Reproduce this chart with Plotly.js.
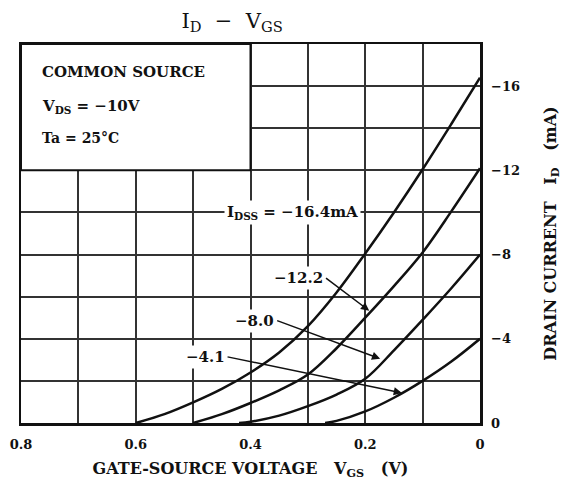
<!DOCTYPE html>
<html>
<head>
<meta charset="utf-8">
<script src="https://cdn.plot.ly/plotly-3.0.1.min.js"></script>
<style>html,body{margin:0;padding:0;background:#fff;}#chart{width:562px;height:486px;}</style>
</head>
<body>
<div id="chart"></div>
<script>
// Gate-source voltage (V) and drain current (mA)
const curveLabels = ['IDSS = -16.4mA', '-12.2', '-8.0', '-4.1'];
const vgs1 = [0, 0.05, 0.1, 0.15, 0.2, 0.25, 0.3, 0.35, 0.4, 0.45, 0.5, 0.55, 0.6];
const id1  = [-16.4, -14.2, -12.05, -10.0, -8.05, -6.2, -4.6, -3.35, -2.4, -1.62, -0.98, -0.42, 0];
const vgs2 = [0, 0.05, 0.1, 0.15, 0.2, 0.25, 0.3, 0.35, 0.4, 0.45, 0.5];
const id2  = [-12.1, -10.05, -8.1, -6.5, -5.0, -3.55, -2.3, -1.55, -0.95, -0.42, 0];
const vgs3 = [0, 0.05, 0.1, 0.15, 0.2, 0.25, 0.3, 0.35, 0.4, 0.42];
const id3  = [-8.0, -6.4, -4.9, -3.45, -2.1, -1.35, -0.8, -0.35, -0.06, 0];
const vgs4 = [0, 0.05, 0.1, 0.15, 0.2, 0.25, 0.27];
const id4  = [-4.0, -2.92, -2.0, -1.2, -0.55, -0.1, 0];
const xTickVals = [0.8, 0.6, 0.4, 0.2, 0];
const xTickText = ['0.8', '0.6', '0.4', '0.2', '0'];
const yTickVals = [-16, -12, -8, -4, 0];
const yTickText = ['−16', '−12', '−8', '−4', '0'];

const serif = 'DejaVu Serif, Liberation Serif, serif';
const ink = '#111';
const lineStyle = {color: ink, width: 2.5, shape: 'spline', smoothing: 1.0};

const traces = [
  [vgs1, id1], [vgs2, id2], [vgs3, id3], [vgs4, id4]
].map((d, i) => ({
  x: d[0], y: d[1], type: 'scatter', mode: 'lines', name: curveLabels[i],
  line: lineStyle, hoverinfo: 'x+y', showlegend: false
}));

const gridColor = '#333';
const bold = (s) => '<b>' + s + '</b>';
const textAnno = (x, y, text, extra) => Object.assign({
  x: x, y: y, xref: 'x', yref: 'y', text: text, showarrow: false,
  font: {family: serif, size: 15, color: ink}, xanchor: 'left', yanchor: 'middle'
}, extra || {});
// label whose right edge sits at (x0, y0), with an arrow to (x1, y1)
const arrowLabel = (x0, y0, x1, y1, text) => ({
  x: x1, y: y1, ax: x0, ay: y0, xref: 'x', yref: 'y', axref: 'x', ayref: 'y',
  text: bold(text), xanchor: 'right', yanchor: 'middle', bgcolor: '#fff', borderpad: 2,
  font: {family: serif, size: 15, color: ink},
  showarrow: true, arrowhead: 2, arrowsize: 1.1, arrowwidth: 1.5, arrowcolor: ink
});

const layout = {
  width: 562, height: 486,
  margin: {l: 21, r: 82, t: 44, b: 63},
  paper_bgcolor: '#fff', plot_bgcolor: '#fff',
  title: {
    text: 'I<sub>D</sub>  −  V<sub>GS</sub>',
    x: 0.413, xanchor: 'center', y: 0.958, yanchor: 'middle',
    font: {family: serif, size: 21, color: ink}
  },
  xaxis: {
    range: [0.8, 0], tickvals: xTickVals, ticktext: xTickText.map(bold),
    showgrid: true, gridcolor: gridColor, gridwidth: 2,
    minor: {dtick: 0.1, tick0: 0, showgrid: true, gridcolor: gridColor, gridwidth: 2, ticks: ''},
    showline: true, mirror: true, linecolor: ink, linewidth: 2.5,
    zeroline: false, ticks: '', ticklabelstandoff: 8,
    tickfont: {family: serif, size: 13, color: ink},
    title: {text: bold('GATE-SOURCE VOLTAGE   V<sub>GS</sub>   (V)'), font: {family: serif, size: 16, color: ink}, standoff: 12}
  },
  yaxis: {
    range: [0, -18], side: 'right', tickvals: yTickVals, ticktext: yTickText.map(bold),
    showgrid: true, gridcolor: gridColor, gridwidth: 2,
    minor: {dtick: 2, tick0: 0, showgrid: true, gridcolor: gridColor, gridwidth: 2, ticks: ''},
    showline: true, mirror: true, linecolor: ink, linewidth: 2.5,
    zeroline: false, ticks: '', ticklabelstandoff: 6,
    tickfont: {family: serif, size: 13, color: ink},
    title: {text: bold('DRAIN CURRENT   I<sub>D</sub>   (mA)'), font: {family: serif, size: 16, color: ink}, standoff: 26}
  },
  shapes: [{
    type: 'rect', xref: 'x', yref: 'y', x0: 0.8, x1: 0.4, y0: -18, y1: -12,
    fillcolor: '#fff', line: {color: ink, width: 2}, layer: 'above'
  }],
  annotations: [
    textAnno(0.767, -16.67, bold('COMMON SOURCE')),
    textAnno(0.767, -15.05, bold('V<sub>DS</sub> = −10V')),
    textAnno(0.767, -13.52, bold('Ta = 25°C'), {font: {family: serif, size: 14, color: ink}}),
    textAnno(0.446, -10, bold('I<sub>DSS</sub> = −16.4mA'), {bgcolor: '#fff', borderpad: 2}),
    arrowLabel(0.2684, -6.88, 0.193, -5.33, '−12.2'),
    arrowLabel(0.3535, -4.86, 0.174, -3.05, '−8.0'),
    arrowLabel(0.440, -3.14, 0.136, -1.43, '−4.1')
  ]
};

Plotly.newPlot('chart', traces, layout, {displayModeBar: false, staticPlot: true});
</script>
</body>
</html>
